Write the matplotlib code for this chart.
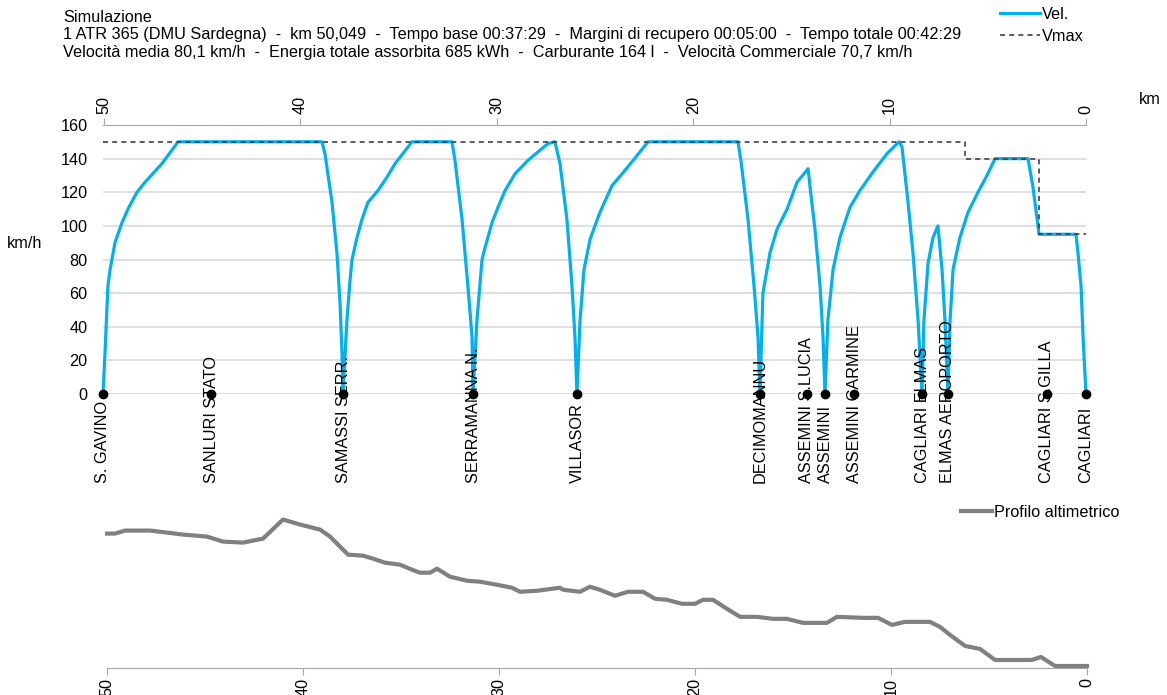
import matplotlib
matplotlib.use("Agg")
import matplotlib.pyplot as plt

# speed profile (km remaining to Cagliari, km/h)
vel_km = [50.05, 49.95, 49.80, 49.69, 49.44, 49.08, 48.78, 48.32, 47.91, 47.05, 46.23,
          38.90, 38.75, 38.39, 38.14, 37.98, 37.88, 37.83,
          37.63, 37.47, 37.37, 37.12, 36.86, 36.56, 36.05, 35.59, 35.18, 34.78, 34.32,
          32.28, 32.13, 31.77, 31.47, 31.26, 31.21,
          31.01, 30.75, 30.60, 30.24, 29.94, 29.58, 29.07, 28.41, 27.39, 27.04,
          26.78, 26.43, 26.17, 26.02, 25.92,
          25.76, 25.56, 25.25, 24.75, 24.13, 23.47, 22.71, 22.30, 17.72, 17.57, 17.21, 16.90, 16.70, 16.60,
          16.45, 16.09, 15.73, 15.22, 14.71, 14.15, 14.05, 13.80, 13.54, 13.39, 13.29,
          13.14, 12.88, 12.53, 12.02, 11.51, 10.85, 10.13, 9.52, 9.37, 9.06, 8.81, 8.55, 8.35,
          8.25, 8.04, 7.79, 7.54, 7.33, 7.18, 7.03,
          6.92, 6.77, 6.42, 6.01, 5.50, 5.04, 4.63, 2.95, 2.70, 2.49, 2.39, 0.51, 0.41, 0.25, 0.15, 0.0]
vel_kmh = [0, 24, 64, 74, 90, 102, 110, 120, 126, 137, 150,
           150, 143, 114, 84, 54, 24, 0,
           44, 68, 80, 93, 104, 114, 121, 129, 137, 143, 150,
           150, 139, 104, 64, 34, 0,
           44, 80, 87, 102, 111, 121, 131, 139, 149, 150,
           137, 104, 64, 34, 0,
           44, 74, 92, 108, 124, 133, 144, 150, 150, 139, 104, 64, 34, 0,
           60, 84, 98, 110, 126, 134, 123, 98, 64, 34, 0,
           44, 74, 93, 111, 121, 132, 143, 150, 147, 114, 84, 44, 0,
           44, 78, 93, 100, 74, 44, 0,
           44, 74, 93, 108, 120, 130, 140, 140, 123, 104, 95, 95, 84, 64, 34, 0]

vmax_km = [50.05, 6.16, 6.16, 2.39, 2.39, 0.0]
vmax_kmh = [150, 150, 140, 140, 95, 95]

stations = ["S. GAVINO", "SANLURI STATO", "SAMASSI SERR.", "SERRAMANNA N.", "VILLASOR",
            "DECIMOMANNU", "ASSEMINI S.LUCIA", "ASSEMINI", "ASSEMINI CARMINE",
            "CAGLIARI ELMAS", "ELMAS AEROPORTO", "CAGLIARI S.GILLA", "CAGLIARI"]
station_km = [50.05, 44.55, 37.83, 31.21, 25.92, 16.60, 14.21, 13.29, 11.80, 8.35, 7.03, 1.99, 0.0]

# altitude profile (km, m)
alt_km = [50.0, 49.59, 49.08, 47.81, 46.94, 46.12, 44.90, 44.08, 43.06, 42.04, 41.02, 40.15, 39.13,
          38.62, 38.11, 37.70, 36.94, 36.43, 35.82, 35.05, 34.44, 34.03, 33.52, 33.16, 32.50, 31.63,
          30.97, 30.10, 29.34, 28.93, 28.06, 26.89, 26.73, 25.87, 25.36, 24.85, 24.08, 23.42, 22.65,
          22.04, 21.43, 20.66, 20.00, 19.59, 19.08, 18.37, 17.70, 16.84, 16.02, 15.31, 14.49, 13.27,
          12.76, 11.43, 10.66, 9.95, 9.29, 8.01, 7.50, 6.99, 6.22, 5.46, 4.69, 2.81, 2.35, 1.63, 0.0]
alt_m = [53.6, 53.6, 54.8, 54.8, 54.0, 53.2, 52.4, 50.4, 50.0, 51.6, 59.2, 57.2, 55.2,
         52.4, 48.4, 45.2, 44.8, 43.6, 42.0, 41.2, 39.2, 38.0, 38.0, 39.6, 36.4, 34.8,
         34.4, 33.2, 32.0, 30.4, 30.8, 32.0, 31.2, 30.4, 32.4, 31.2, 28.8, 30.4, 30.4,
         27.6, 27.2, 25.6, 25.6, 27.2, 27.2, 23.6, 20.4, 20.4, 19.6, 19.6, 18.0, 18.0,
         20.4, 20.0, 20.0, 17.2, 18.4, 18.4, 16.4, 13.2, 8.8, 7.6, 3.2, 3.2, 4.4, 0.8, 0.8]

header = ["Simulazione",
          "1 ATR 365 (DMU Sardegna)  -  km 50,049  -  Tempo base 00:37:29  -  Margini di recupero 00:05:00  -  Tempo totale 00:42:29",
          "Velocità media 80,1 km/h  -  Energia totale assorbita 685 kWh  -  Carburante 164 l  -  Velocità Commerciale 70,7 km/h"]

plt.rcParams['font.family'] = ['Liberation Sans', 'DejaVu Sans']
plt.rcParams['font.size'] = 11.7

W, H = 1167, 695
fig = plt.figure(figsize=(W / 100, H / 100), dpi=100)
axis_grey = '#a6a6a6'

# speed chart
ax = fig.add_axes([103 / W, 1 - 394 / H, 983 / W, 269 / H])
ax.plot(vel_km, vel_kmh, color='#00b0f0', lw=2.3, clip_on=False, zorder=3, label='Vel.')
ax.plot(vmax_km, vmax_kmh, color='#404040', lw=1.2, ls=(0, (3, 2.5)), zorder=4, label='Vmax')
ax.plot(station_km, [0] * len(station_km), 'o', color='black', ms=6, clip_on=False, zorder=5)
for name, km in zip(stations, station_km):
    ax.text(km, -53, name, rotation=90, ha='center', va='bottom', zorder=6)

ax.set_xlim(50.05, 0)
ax.set_ylim(0, 160)
ax.set_yticks(range(0, 161, 20))
ax.set_xticks([50, 40, 30, 20, 10, 0])
ax.yaxis.grid(True, color='#d9d9d9', lw=1.2)
ax.set_axisbelow(True)
ax.xaxis.tick_top()
ax.tick_params(axis='x', direction='out', length=5, color=axis_grey, pad=3, labelrotation=90)
ax.tick_params(axis='y', length=0, pad=11)
for s in ['left', 'right', 'bottom']:
    ax.spines[s].set_visible(False)
ax.spines['top'].set_color(axis_grey)

ax.legend(loc='upper left', bbox_to_anchor=(1000 / W, 1 - 7 / H), bbox_transform=fig.transFigure,
          frameon=False, handlelength=2.45, handletextpad=0.12, labelspacing=0.42,
          borderpad=0, borderaxespad=0)

for i, line in enumerate(header):
    fig.text(63 / W, 1 - (17 + 18 * i) / H, line, va='center')
fig.text(1150 / W, 1 - 100 / H, 'km', ha='center', va='center')
fig.text(25 / W, 1 - 244 / H, 'km/h', ha='center', va='center')

# altitude profile
ax2 = fig.add_axes([107 / W, 1 - 668 / H, 980 / W, 163 / H])
ax2.plot(alt_km, alt_m, color='#808080', lw=3, clip_on=False, label='Profilo altimetrico')
ax2.set_xlim(50, 0)
ax2.set_ylim(0, 65)
ax2.set_yticks([])
ax2.set_xticks([50, 40, 30, 20, 10, 0])
ax2.tick_params(axis='x', direction='out', length=5, color=axis_grey, pad=2, labelrotation=90)
for s in ['left', 'right', 'top']:
    ax2.spines[s].set_visible(False)
ax2.spines['bottom'].set_color(axis_grey)
ax2.legend(loc='upper left', bbox_to_anchor=(961 / W, 1 - 505 / H), bbox_transform=fig.transFigure,
           frameon=False, handlelength=1.9, handletextpad=0.12, borderpad=0, borderaxespad=0)

fig.savefig('out.png', dpi=100)
